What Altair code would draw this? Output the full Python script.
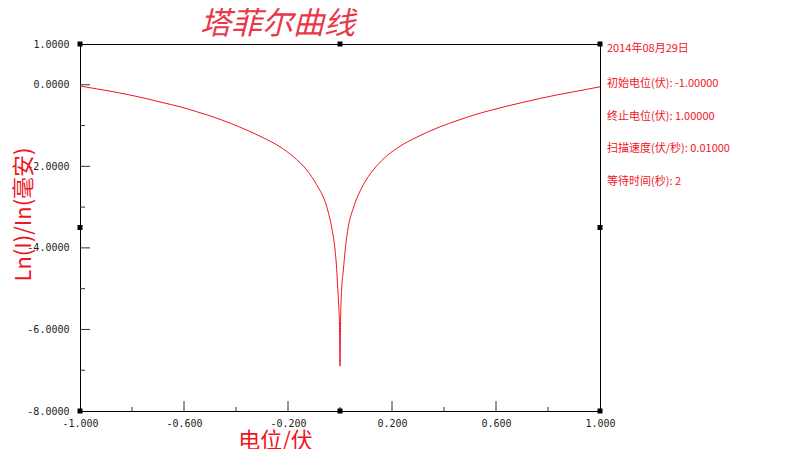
import altair as alt
import pandas as pd

# ---- data ----
curve_x = [-1.000, -0.936, -0.872, -0.808, -0.744, -0.680, -0.615, -0.551, -0.487, -0.423,
           -0.359, -0.295, -0.231, -0.180, -0.128, -0.090, -0.051, -0.032, -0.020, -0.013,
           -0.009, -0.005, -0.002, 0.000, 0.002, 0.006, 0.013, 0.020, 0.032, 0.051,
           0.090, 0.128, 0.170, 0.218, 0.300, 0.385, 0.450, 0.513, 0.577, 0.641,
           0.705, 0.769, 0.833, 0.897, 0.950, 1.000]
curve_y = [-0.03, -0.10, -0.17, -0.25, -0.34, -0.44, -0.54, -0.66, -0.79, -0.94,
           -1.11, -1.30, -1.52, -1.76, -2.09, -2.45, -2.99, -3.50, -4.00, -4.50,
           -4.95, -5.40, -5.90, -6.90, -5.90, -5.05, -4.54, -4.05, -3.48, -3.03,
           -2.45, -2.09, -1.80, -1.56, -1.27, -1.03, -0.88, -0.745, -0.63, -0.525,
           -0.43, -0.336, -0.25, -0.174, -0.11, -0.05]

x_labels = [-1.0, -0.6, -0.2, 0.2, 0.6, 1.0]
x_major = [-0.6, -0.2, 0.2, 0.6]
x_minor = [-0.8, -0.4, 0.0, 0.4, 0.8]
y_labels = [1.0, 0.0, -2.0, -4.0, -6.0, -8.0]
y_major = [0.0, -2.0, -4.0, -6.0]
y_minor = [-1.0, -3.0, -5.0, -7.0]

handle_x = [-1.0, 0.0, 1.0, -1.0, 1.0, -1.0, 0.0, 1.0]
handle_y = [1.0, 1.0, 1.0, -3.5, -3.5, -8.0, -8.0, -8.0]

info_lines = ["2014年08月29日", "初始电位(伏): -1.00000", "终止电位(伏): 1.00000",
              "扫描速度(伏/秒): 0.01000", "等待时间(秒): 2"]

title_text = "塔菲尔曲线"
x_title = "电位/伏"
y_title = "Ln(I)/In(毫安)"

RED = "#f0141e"
MONO = "DejaVu Sans Mono"
CJK = "Noto Sans CJK SC"

W, H = 520, 367

xs = alt.Scale(domain=[-1, 1], nice=False, zero=False)
ys = alt.Scale(domain=[-8, 1], nice=False, zero=False)

curve_df = pd.DataFrame({"x": curve_x, "y": curve_y, "i": range(len(curve_x))})

x_axis = alt.Axis(
    values=x_labels, labelExpr="replace(format(datum.value, '.3f'), '\u2212', '-')",
    labelFont=MONO, labelFontSize=10, labelColor="#222", labelPadding=7,
    ticks=False, tickSize=0, grid=False, domainColor="black", domainWidth=1,
    title=x_title, titleFont=CJK, titleFontSize=22, titleFontWeight="normal",
    titleColor=RED, titleX=195, titleY=29, titleAlign="center", titleBaseline="middle",
    labelFlush=False, labelOverlap=False,
)
y_axis = alt.Axis(
    values=y_labels, labelExpr="replace(format(datum.value, '.4f'), '\u2212', '-')",
    labelFont=MONO, labelFontSize=10, labelColor="#222", labelPadding=11,
    ticks=False, tickSize=0, grid=False, domainColor="black", domainWidth=1,
    title=y_title, titleFont=CJK, titleFontSize=22, titleFontWeight="normal",
    titleColor=RED, titleX=-57, titleY=170, titleAngle=270, titleAlign="center",
    titleBaseline="middle", labelFlush=False, labelOverlap=False,
)

line = alt.Chart(curve_df).mark_line(color=RED, strokeWidth=1, interpolate="monotone").encode(
    x=alt.X("x:Q", scale=xs, axis=x_axis),
    y=alt.Y("y:Q", scale=ys, axis=y_axis),
    order="i:Q",
)

def yticks(vals, length):
    return alt.Chart(pd.DataFrame({"y": vals})).mark_rule(color="#333", strokeWidth=1).encode(
        y=alt.Y("y:Q", scale=ys, axis=y_axis), x=alt.value(0), x2=alt.value(length))

def xticks(vals, length):
    return alt.Chart(pd.DataFrame({"x": vals})).mark_rule(color="#333", strokeWidth=1).encode(
        x=alt.X("x:Q", scale=xs, axis=x_axis), y=alt.value(H), y2=alt.value(H - length))

handles = alt.Chart(pd.DataFrame({"x": handle_x, "y": handle_y})).mark_point(
    shape="square", filled=True, color="black", size=25, opacity=1).encode(
    x=alt.X("x:Q", scale=xs, axis=x_axis), y=alt.Y("y:Q", scale=ys, axis=y_axis))

info_y = [5, 40, 73, 105, 138]
info_layers = []
for t, yy in zip(info_lines, info_y):
    info_layers.append(
        alt.Chart(pd.DataFrame({"t": [t]})).mark_text(
            align="left", baseline="middle", font=CJK, fontSize=11, color=RED).encode(
            text="t:N", x=alt.value(W + 7), y=alt.value(yy)))

chart = alt.layer(
    line, yticks(y_major, 10), yticks(y_minor, 5), xticks(x_major, 10), xticks(x_minor, 4),
    handles, *info_layers,
).properties(
    width=W, height=H,
    title=alt.TitleParams(title_text, font=CJK, fontSize=31, fontStyle="italic",
                          fontWeight="normal", color="#e8384a", anchor="start",
                          frame="group", dx=120, offset=0, dy=2),
    autosize=alt.AutoSizeParams(type="none"),
    padding={"left": 72, "top": 36, "right": 192, "bottom": 38},
).configure_view(stroke="black", strokeWidth=1)

chart.save("out.html", embed_options={"renderer": "svg", "actions": False})
